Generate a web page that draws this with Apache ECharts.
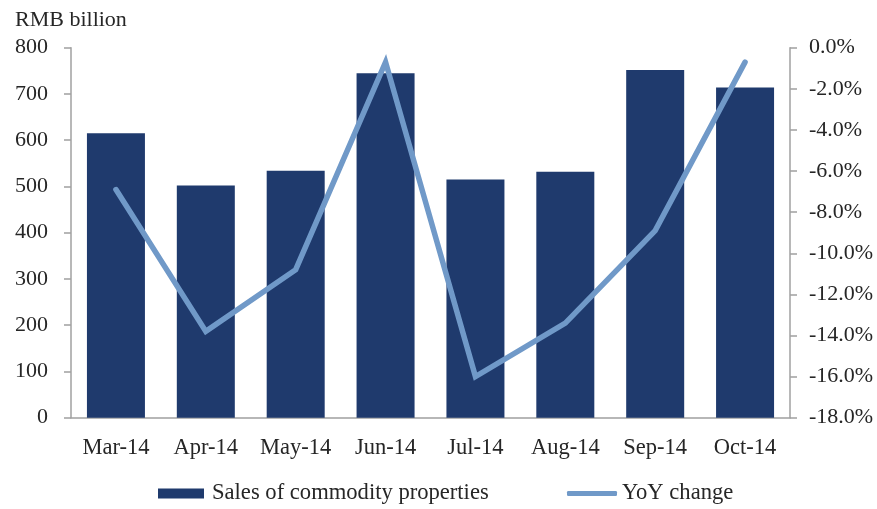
<!DOCTYPE html>
<html>
<head>
<meta charset="utf-8">
<script src="https://cdn.jsdelivr.net/npm/echarts@6/dist/echarts.min.js"></script>
<style>
  html, body { margin: 0; padding: 0; background: #fff; }
  #chart { width: 877px; height: 509px; }
</style>
</head>
<body>
<div id="chart"></div>
<script>
// Monthly sales of commodity properties (RMB billion) and year-on-year change (%)
const months = ['Mar-14', 'Apr-14', 'May-14', 'Jun-14', 'Jul-14', 'Aug-14', 'Sep-14', 'Oct-14'];
const salesValues = [615, 502, 534, 745, 515, 532, 752, 714];
const yoyValues = [-6.9, -13.8, -10.8, -0.7, -16.0, -13.4, -8.9, -0.7];

const FONT = '"Liberation Serif", "Times New Roman", serif';
const TEXT = '#262626';
const AXIS = '#a0a0a0';
const BAR = '#1f3a6d';
const LINE = '#7099c8';

const chart = echarts.init(document.getElementById('chart'));
chart.setOption({
  animation: false,
  backgroundColor: '#fff',
  textStyle: { fontFamily: FONT },
  title: {
    text: 'RMB billion',
    left: 10,
    top: 4,
    textStyle: { fontFamily: FONT, fontSize: 22, fontWeight: 'normal', color: TEXT }
  },
  grid: { left: 71, right: 87, top: 47.7, bottom: 91.3, containLabel: false },
  legend: [
    {
      left: 158, top: 482, padding: 0,
      itemWidth: 46, itemHeight: 10, itemGap: 0,
      data: [{ name: 'Sales of commodity properties', icon: 'rect' }],
      textStyle: { fontFamily: FONT, fontSize: 22.6, color: TEXT, padding: [0, 0, 0, 3] }
    },
    {
      left: 567, top: 482, padding: 0,
      itemWidth: 50, itemHeight: 5, itemGap: 0,
      data: [{ name: 'YoY change', icon: 'roundRect' }],
      textStyle: { fontFamily: FONT, fontSize: 22.6, color: TEXT, padding: [0, 0, 0, 0] }
    }
  ],
  xAxis: {
    type: 'category',
    data: months,
    axisLine: { show: true, lineStyle: { color: AXIS, width: 1.5 } },
    axisTick: { show: false },
    axisLabel: { fontFamily: FONT, fontSize: 22.5, color: TEXT, margin: 19, interval: 0 },
    splitLine: { show: false }
  },
  yAxis: [
    {
      type: 'value',
      min: 0, max: 800, interval: 100,
      axisLine: { show: true, lineStyle: { color: AXIS, width: 1.5 } },
      axisTick: { show: true, length: 7, lineStyle: { color: AXIS, width: 1.5 } },
      axisLabel: { fontFamily: FONT, fontSize: 22, color: TEXT, margin: 23 },
      splitLine: { show: false }
    },
    {
      type: 'value',
      min: -18, max: 0, interval: 2,
      position: 'right',
      axisLine: { show: true, lineStyle: { color: AXIS, width: 1.5 } },
      axisTick: { show: true, length: 7, lineStyle: { color: AXIS, width: 1.5 } },
      axisLabel: {
        fontFamily: FONT, fontSize: 22, color: TEXT, margin: 19,
        formatter: v => v.toFixed(1) + '%'
      },
      splitLine: { show: false }
    }
  ],
  series: [
    {
      name: 'Sales of commodity properties',
      type: 'bar',
      data: salesValues,
      yAxisIndex: 0,
      barWidth: 58,
      itemStyle: { color: BAR }
    },
    {
      name: 'YoY change',
      type: 'line',
      data: yoyValues,
      yAxisIndex: 1,
      symbol: 'none',
      lineStyle: { color: LINE, width: 5.5, cap: 'round', join: 'miter' },
      itemStyle: { color: LINE }
    }
  ]
});
</script>
</body>
</html>
